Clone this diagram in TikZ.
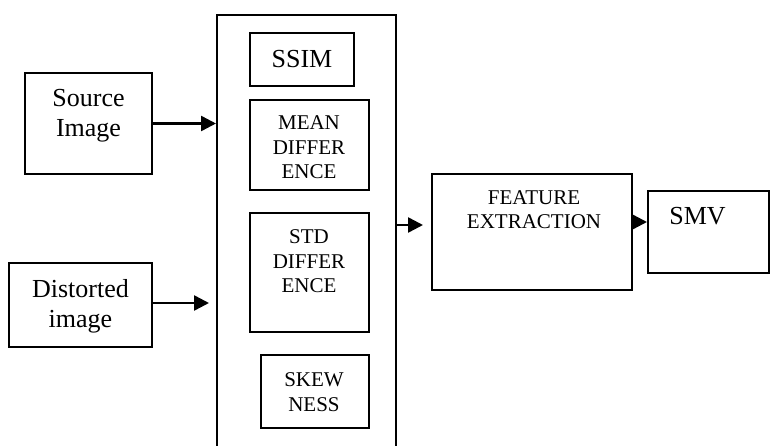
\documentclass[tikz,border=0pt]{standalone}
\usepackage{fontspec}
\setmainfont{Liberation Serif}
\usetikzlibrary{arrows.meta}
\begin{document}
\begin{tikzpicture}[x=1pt,y=-1pt,
  box/.style={draw=black, line width=2pt, rectangle, inner sep=0pt},
  bigtxt/.style={font=\fontsize{26}{30}\selectfont, align=center, anchor=base, inner sep=0pt},
  smalltxt/.style={font=\fontsize{21}{24.5}\selectfont, align=center, anchor=base, inner sep=0pt},
  arr/.style={line width=2.5pt, -{Triangle[length=15pt,width=15pt]}}]
\useasboundingbox (0,0) rectangle (771,446);
\clip (0,0) rectangle (771,446);
% boxes
\node[box, minimum width=127pt, minimum height=101pt] (src) at (88.5,123.5) {};
\node[box, minimum width=143pt, minimum height=84pt] (dst) at (80.5,305) {};
\node[box, minimum width=179pt, minimum height=460pt] (big) at (306.5,245) {};
\node[box, minimum width=104pt, minimum height=53pt] (ssim) at (302,59.5) {};
\node[box, minimum width=119pt, minimum height=90pt] (mean) at (309.5,145) {};
\node[box, minimum width=119pt, minimum height=119pt] (std) at (309.5,272.5) {};
\node[box, minimum width=108pt, minimum height=73pt] (skew) at (315,391.5) {};
\node[box, minimum width=200pt, minimum height=116pt] (feat) at (532,232) {};
\node[box, minimum width=121pt, minimum height=82pt] (smv) at (708.5,232) {};
% texts (anchored at the baseline of the last line)
\node[bigtxt] (srcT) at (88.5,137) {Source\\Image};
\node[bigtxt] (dstT) at (80.5,327) {Distorted\\image};
\node[bigtxt] (ssimT) at (302,68) {SSIM};
\node[smalltxt] (meanT) at (309,179) {MEAN\\DIFFER\\ENCE};
\node[smalltxt] (stdT) at (309,293) {STD\\DIFFER\\ENCE};
\node[smalltxt] (skewT) at (314,411) {SKEW\\NESS};
\node[smalltxt] (featT) at (534,229) {FEATURE\\EXTRACTION};
\node[bigtxt] (smvT) at (697.5,225) {SMV};
% connectors
\coordinate (srcEnd) at (big.west |- src.east);
\coordinate (dstEnd) at (209,303);
\coordinate (bigOut) at (396,225);
\coordinate (featIn) at (423,225);
\coordinate (featOut) at (632,222);
\draw[arr] (src.east) -- (srcEnd);
\draw[arr] (dst.east |- dstEnd) -- (dstEnd);
\draw[arr] (bigOut) -- (featIn);
\draw[arr] (featOut) -- (smv.west |- featOut);
\end{tikzpicture}
\end{document}
